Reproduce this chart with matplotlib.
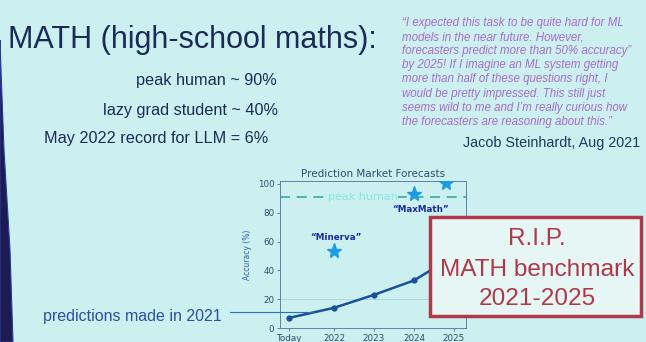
import matplotlib
matplotlib.use('Agg')
import matplotlib.pyplot as plt
from matplotlib.patches import Rectangle, Polygon

plt.rcParams['font.family'] = ['Liberation Sans', 'DejaVu Sans']

# forecast data
forecastX = [2020.875, 2022, 2023, 2024, 2025]
forecastY = [7, 14, 23, 33, 50]
tickPos = [2020.875, 2022, 2023, 2024, 2025]
tickLabels = ['Today', '2022', '2023', '2024', '2025']
starX = [2022, 2024, 2024.8]
starY = [53.5, 93, 100.5]
peakHuman = 91

W, H = 646, 342
bg = '#ccf0f0'
navy = '#1c2a58'
chartFont = 'DejaVu Sans'

def fx(x):
    return x / W

def fy(y):
    return 1 - y / H

fig = plt.figure(figsize=(W / 100, H / 100), dpi=100)
fig.patch.set_facecolor(bg)

# dark edge of the screen at the left
edge = [(0, 40), (1, 70), (4, 150), (10, 250), (13, 342), (0, 342)]
fig.add_artist(Polygon([(fx(a), fy(b)) for a, b in edge], closed=True, transform=fig.transFigure,
                       facecolor='#1c1c52', edgecolor='#2a3aa0', linewidth=0.8, zorder=12))

# slide text
fig.text(fx(8), fy(48), 'MATH (high-school maths):', fontsize=22, color=navy, va='baseline')
fig.text(fx(277), fy(85), 'peak human ~ 90%', fontsize=11.7, color=navy, ha='right', va='baseline')
fig.text(fx(278), fy(115), 'lazy grad student ~ 40%', fontsize=11.7, color=navy, ha='right', va='baseline')
fig.text(fx(268), fy(143), 'May 2022 record for LLM = 6%', fontsize=11.7, color=navy, ha='right', va='baseline')

quote = ['\u201cI expected this task to be quite hard for ML',
         'models in the near future. However,',
         'forecasters predict more than 50% accuracy\u201d',
         'by 2025! If I imagine an ML system getting',
         'more than half of these questions right, I',
         'would be pretty impressed. This still just',
         'seems wild to me and I\u2019m really curious how',
         'the forecasters are reasoning about this.\u201d']
for i, line in enumerate(quote):
    fig.text(fx(402), fy(26 + i * 14.1), line, fontsize=8.3, style='italic',
             color='#a86cc8', va='baseline')
fig.text(fx(640), fy(147), 'Jacob Steinhardt, Aug 2021', fontsize=10.4, color='#1c3a5c',
         ha='right', va='baseline')

fig.text(fx(43), fy(321), 'predictions made in 2021', fontsize=11.5, color='#2a50a0', va='baseline')
fig.add_artist(plt.Line2D([fx(230), fx(313)], [fy(312), fy(312)], color='#3070b0',
                          linewidth=0.8, transform=fig.transFigure, zorder=6))

# inner chart
ax = fig.add_axes([fx(280), fy(328), fx(466) - fx(280), fy(181) - fy(328)])
ax.set_facecolor('none')
ax.set_xlim(2020.65, 2025.3)
ax.set_ylim(0, 102)
ax.axhline(20, color='#a8d8e0', linewidth=0.6, zorder=0)
ax.plot(forecastX, forecastY, '-o', color='#1a4f9a', linewidth=1.8, markersize=3.5)
ax.axhline(peakHuman, color='#3aa8a0', linewidth=1.2, linestyle=(0, (6, 4)), zorder=1)
ax.text(2022.72, peakHuman, 'peak human', fontsize=8, family=chartFont, color='#88e4e4',
        ha='center', va='center', bbox=dict(facecolor=bg, edgecolor='none', pad=0.5), zorder=2)
ax.plot(starX, starY, '*', color='#1e9ce0', markersize=11, linestyle='none', zorder=3)
ax.text(2022.05, 62.5, '\u201cMinerva\u201d', fontsize=6.3, family=chartFont, fontweight='bold',
        color='#1a2aa0', ha='center', va='center')
ax.text(2024.15, 82, '\u201cMaxMath\u201d', fontsize=6.3, family=chartFont, fontweight='bold',
        color='#1a2aa0', ha='center', va='center')

ax.set_xticks(tickPos)
ax.set_xticklabels(tickLabels, family=chartFont)
ax.set_yticks([0, 20, 40, 60, 80, 100])
ax.set_yticklabels(['0', '20', '40', '60', '80', '100'], family=chartFont)
ax.tick_params(labelsize=6.3, colors='#5070a0', length=2, width=0.6, pad=2, labelcolor='#304a70')
for s in ax.spines.values():
    s.set_color('#6080a8')
    s.set_linewidth(0.7)
ax.set_ylabel('Accuracy (%)', fontsize=5.5, family=chartFont, color='#3060b0', labelpad=4)
ax.set_title('Prediction Market Forecasts', fontsize=7.5, family=chartFont, color='#304a70', pad=3)

# R.I.P. box over the chart
fig.add_artist(Rectangle((fx(430), fy(316)), fx(641) - fx(430), fy(217) - fy(316),
                         transform=fig.transFigure, facecolor='#e6f6f5', edgecolor='#b03848',
                         linewidth=2.5, zorder=10))
for txt, yy in [('R.I.P.', 245), ('MATH benchmark', 276), ('2021-2025', 305)]:
    fig.text(fx(537), fy(yy), txt, fontsize=17.6, color='#b03848', ha='center', va='baseline', zorder=11)

fig.savefig('out.png', dpi=100, facecolor=fig.get_facecolor())
